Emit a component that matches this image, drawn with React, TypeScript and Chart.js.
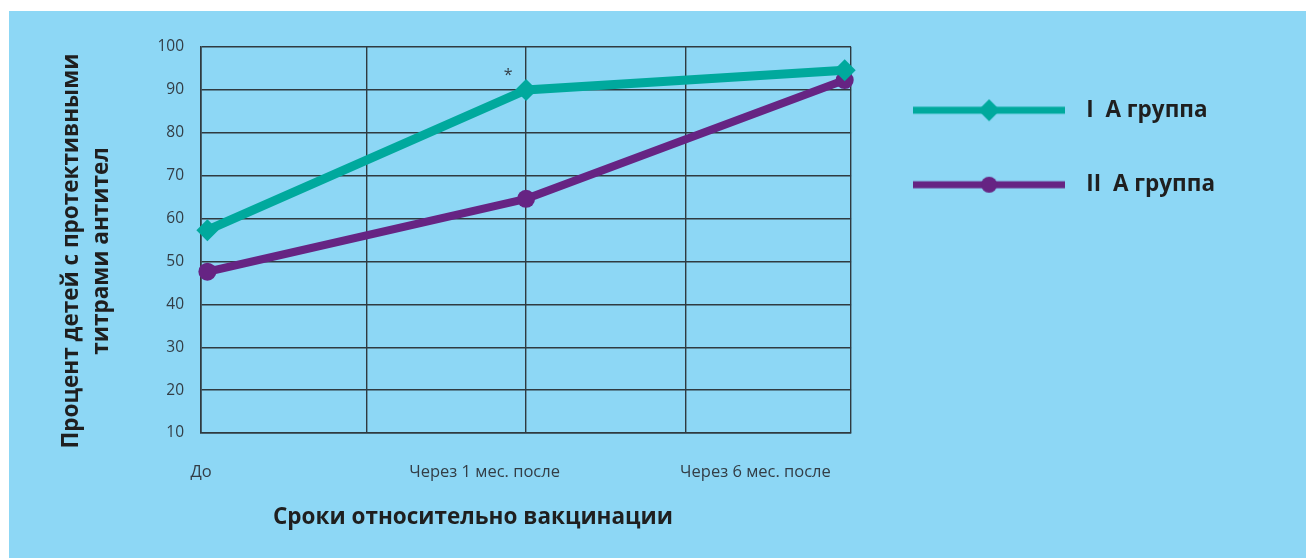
import React, { useEffect, useRef } from 'react';
import { Chart, registerables } from 'chart.js';

Chart.register(...registerables);

// ---- data ----
const categories = ['До', 'Через 1 мес. после', 'Через 6 мес. после'];
const categoryX = [0, 1, 2];            // x value of each measurement
const categoryLabelX = [-0.02, 0.87, 1.72]; // where each category label sits on the x axis
const xGridValues = [0.5, 1, 1.5];      // inner vertical grid lines
const xMin = -0.02;
const xMax = 2.02;

const seriesNames = ['I  А группа', 'II  А группа'];
const groupI = [57.3, 90.0, 94.6];
const groupII = [47.6, 64.6, 92.3];

const yMin = 10;
const yMax = 100;
const yStep = 10;

const yTitleLines = ['Процент детей с протективными', 'титрами антител'];
const xTitleText = 'Сроки относительно вакцинации';
const markIndex = 1; // point of group I marked with an asterisk
const markText = '*';

// ---- styles ----
const BG = '#8dd7f5';
const TEAL = '#00a99d';
const PURPLE = '#662483';
const GRID = '#2f3a40';
const TICK = '#333d45';
const TITLE = '#1f1f1f';
const FONT = "'Open Sans', 'DejaVu Sans', sans-serif";

function legendImage(color: string, marker: 'diamond' | 'circle'): HTMLCanvasElement {
  const c = document.createElement('canvas');
  c.width = 152;
  c.height = 26;
  const g = c.getContext('2d')!;
  g.fillStyle = color;
  g.fillRect(0, 13 - 3.5, 152, 7);
  g.beginPath();
  if (marker === 'diamond') {
    g.moveTo(76, 2);
    g.lineTo(87, 13);
    g.lineTo(76, 24);
    g.lineTo(65, 13);
    g.closePath();
  } else {
    g.arc(76, 13, 8, 0, Math.PI * 2);
  }
  g.fill();
  return c;
}

const backgroundPlugin = {
  id: 'bgFill',
  beforeDraw(chart: any) {
    const { ctx, width, height } = chart;
    ctx.save();
    ctx.fillStyle = BG;
    ctx.fillRect(0, 0, width, height);
    ctx.restore();
  },
};

const annotationsPlugin = {
  id: 'axisTitlesAndMark',
  afterDraw(chart: any) {
    const { ctx, chartArea } = chart;
    ctx.save();
    // y-axis title (two lines, rotated)
    ctx.fillStyle = TITLE;
    ctx.font = `bold 22.5px ${FONT}`;
    ctx.textAlign = 'center';
    ctx.textBaseline = 'middle';
    const cy = chartArea.top + 204;
    yTitleLines.forEach((line, i) => {
      ctx.save();
      ctx.translate(63 + i * 30, cy);
      ctx.rotate(-Math.PI / 2);
      ctx.fillText(line, 0, 0);
      ctx.restore();
    });
    // x-axis title
    ctx.fillText(xTitleText, chartArea.left + 272, chartArea.bottom + 85);
    // asterisk over the marked point
    const meta = chart.getDatasetMeta(0);
    const pt = meta.data[markIndex];
    if (pt) {
      ctx.font = `16px ${FONT}`;
      ctx.fillStyle = TICK;
      ctx.fillText(markText, pt.x - 18, pt.y - 14);
    }
    ctx.restore();
  },
};

export default function App() {
  const ref = useRef<HTMLCanvasElement | null>(null);

  useEffect(() => {
    if (!ref.current) return;
    const legendImgs = [legendImage(TEAL, 'diamond'), legendImage(PURPLE, 'circle')];
    const tickValues = Array.from(new Set([xMin, ...xGridValues, xMax, ...categoryLabelX])).sort((a, b) => a - b);
    const gridSet = new Set([xMin, ...xGridValues, xMax]);

    const chart = new Chart(ref.current, {
      type: 'line',
      data: {
        datasets: [
          {
            label: seriesNames[0],
            data: categoryX.map((x, i) => ({ x, y: groupI[i] })),
            borderColor: TEAL,
            backgroundColor: TEAL,
            borderWidth: 9,
            pointStyle: 'rectRot',
            pointRadius: 11,
            pointBorderWidth: 0,
            pointBackgroundColor: TEAL,
            tension: 0,
            clip: false,
          },
          {
            label: seriesNames[1],
            data: categoryX.map((x, i) => ({ x, y: groupII[i] })),
            borderColor: PURPLE,
            backgroundColor: PURPLE,
            borderWidth: 8,
            pointStyle: 'circle',
            pointRadius: 9,
            pointBorderWidth: 0,
            pointBackgroundColor: PURPLE,
            tension: 0,
            clip: false,
          },
        ],
      },
      options: {
        responsive: false,
        animation: false,
        events: [],
        layout: { padding: { top: 36, right: 81, bottom: 0, left: 0 } },
        plugins: {
          tooltip: { enabled: false },
          legend: {
            display: true,
            position: 'right',
            align: 'start',
            fullSize: false,
            maxWidth: 600,
            labels: {
              usePointStyle: true,
              pointStyleWidth: 172,
              padding: 52,
              color: TITLE,
              font: { family: FONT, size: 22.5, weight: 'bold' },
              generateLabels: () =>
                seriesNames.map((name, i) => ({
                  text: name,
                  pointStyle: legendImgs[i],
                  fillStyle: i === 0 ? TEAL : PURPLE,
                  strokeStyle: i === 0 ? TEAL : PURPLE,
                  lineWidth: 0,
                  hidden: false,
                  datasetIndex: i,
                  fontColor: TITLE,
                })),
            },
          },
        },
        scales: {
          x: {
            type: 'linear',
            position: 'bottom',
            min: xMin,
            max: xMax,
            afterBuildTicks: (scale: any) => {
              scale.ticks = tickValues.map((value) => ({ value }));
            },
            afterFit: (scale: any) => {
              scale.height = 125;
            },
            grid: {
              drawTicks: false,
              lineWidth: 1.4,
              color: (c: any) => (c.tick && gridSet.has(c.tick.value) ? GRID : 'rgba(0,0,0,0)'),
            },
            border: { display: true, color: GRID, width: 1.6 },
            ticks: {
              autoSkip: false,
              maxRotation: 0,
              padding: 29,
              color: TICK,
              font: { family: FONT, size: 16.5 },
              callback: (value: any) => {
                const idx = categoryLabelX.indexOf(Number(value));
                return idx >= 0 ? categories[idx] : '';
              },
            },
          },
          y: {
            type: 'linear',
            min: yMin,
            max: yMax,
            afterFit: (scale: any) => {
              scale.width = 192;
            },
            grid: { drawTicks: false, lineWidth: 1.4, color: GRID },
            border: { display: true, color: GRID, width: 1.6 },
            ticks: {
              stepSize: yStep,
              padding: 17,
              color: TICK,
              font: { family: FONT, size: 15.5 },
            },
          },
        },
      },
      plugins: [backgroundPlugin, annotationsPlugin],
    } as any);
    return () => chart.destroy();
  }, []);

  return (
    <div style={{ position: 'fixed', left: 9, top: 11, width: 1297, height: 547 }}>
      <canvas ref={ref} width={1297} height={547} style={{ display: 'block', width: 1297, height: 547 }} />
    </div>
  );
}
